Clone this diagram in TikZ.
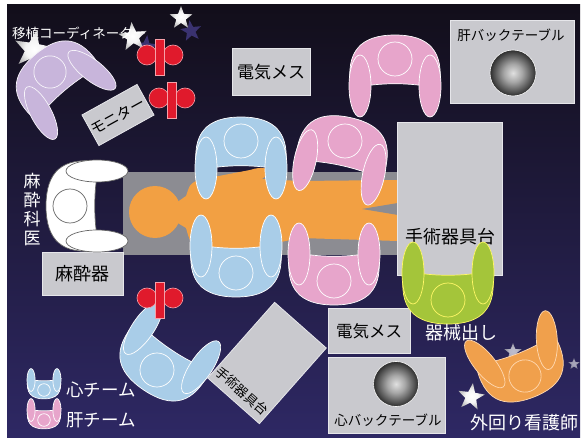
\documentclass[tikz,border=0pt]{standalone}
\usepackage{fontspec}
\setmainfont{Noto Sans CJK JP}
\usetikzlibrary{shapes.geometric,calc}

\definecolor{bgtop}{HTML}{120E1A}
\definecolor{bgmid}{HTML}{201A3C}
\definecolor{bgbot}{HTML}{2E2864}
\definecolor{tablegray}{HTML}{8C8C92}
\definecolor{boxgray}{HTML}{C9C9CE}
\definecolor{boxedge}{HTML}{E6E6EA}
\definecolor{bodyorange}{HTML}{F2A043}
\definecolor{teamblue}{HTML}{A9CDE8}
\definecolor{teampink}{HTML}{E7A5CB}
\definecolor{coordlav}{HTML}{C8B5DB}
\definecolor{nursegreen}{HTML}{A4C53A}
\definecolor{nurseorange}{HTML}{F0A04C}
\definecolor{clampred}{HTML}{E01A2C}
\definecolor{clampedge}{HTML}{F7A0A8}
\definecolor{starshadow}{HTML}{3A3270}

% shading of the metal bowls on the back tables
\pgfdeclareradialshading{bowl}{\pgfpoint{0bp}{0bp}}{%
  color(0bp)=(black!12); color(10bp)=(black!35); color(25bp)=(black!82); color(50bp)=(black!82)}
% shading of the sparkle stars
\pgfdeclareradialshading{starglow}{\pgfpoint{0bp}{0bp}}{%
  color(0bp)=(white); color(12bp)=(white!92!gray); color(30bp)=(gray!75); color(50bp)=(gray!75)}

\tikzset{
  pfill/.store in=\pfill, pline/.store in=\pline, splay/.store in=\psplay,
  pfill=white, pline=white, splay=0,
  % a seated person seen from above, facing down (arms toward +y)
  person/.pic={
    \path[fill=\pfill, draw=\pline, line width=0.7pt]
      (-44,30) .. controls (-50,-8) and (-34,-24) .. (0,-24)
      .. controls (34,-24) and (50,-8) .. (44,30)
      .. controls (20,23) and (-20,23) .. cycle;
    \path[fill=\pfill, draw=\pline, line width=0.7pt] (0,0) circle (17pt);
    \path[fill=\pfill, draw=\pline, line width=0.7pt, shift={(-35,27)}, rotate=-\psplay]
      (0,0) ellipse (11pt and 31pt);
    \path[fill=\pfill, draw=\pline, line width=0.7pt, shift={(35,27)}, rotate=\psplay]
      (0,0) ellipse (11pt and 31pt);
  },
  % red stand: two discs with a bar in front
  clamp/.pic={
    \path[fill=clampred, draw=clampedge, line width=0.6pt]
      (-13,-2) circle (10pt) (13,-2) circle (10pt);
    \path[fill=clampred, draw=clampedge, line width=0.6pt] (-4.5,-18) rectangle (4.5,18);
  },
  graybox/.style={draw=boxedge, line width=0.8pt, fill=boxgray, inner sep=0pt},
  boxlabel/.style={text=black, inner sep=0pt},
  wlabel/.style={text=white, inner sep=0pt},
  sparkle/.style={star, star points=5, star point ratio=2.4, inner sep=0pt, shade, shading=starglow},
  sparkleshadow/.style={star, star points=5, star point ratio=2.4, inner sep=0pt, fill=starshadow},
  bowlnode/.style={circle, inner sep=0pt, draw=white, line width=0.6pt, shade, shading=bowl},
}

\begin{document}
\begin{tikzpicture}[x=1pt,y=-1pt]
\useasboundingbox (0,0) rectangle (582,441);
\fill[white] (0,0) rectangle (582,441);
% room floor
\shade[top color=bgtop, middle color=bgmid, bottom color=bgbot] (7,5) rectangle (580,437);

% operating table and patient
\fill[tablegray] (123,172) rectangle (398,255);
\fill[bodyorange] (155,212) circle (26pt);
\fill[bodyorange] (176,203) -- (186,196) .. controls (190,184) .. (198,180)
  -- (250,170) .. controls (262,166) and (270,168) .. (268,174) -- (262,179)
  -- (300,181) -- (398,180) -- (398,241) -- (300,238) -- (262,246)
  -- (268,250) .. controls (266,256) and (252,257) .. (245,255)
  -- (198,246) .. controls (190,242) .. (186,228) -- (176,222) -- cycle;
\fill[tablegray] (398,203) -- (362,209) -- (398,215) -- cycle;

% sparkles
\node[sparkleshadow, minimum size=22pt, rotate=8] (sh1) at (191,31) {};
\node[sparkleshadow, minimum size=24pt, rotate=-6] (sh2) at (146,47) {};
\node[sparkle, minimum size=40pt, rotate=-10] (st1) at (33,50) {};
\node[sparkle, minimum size=30pt, rotate=6] (st2) at (133,37) {};
\node[sparkle, minimum size=24pt] (st3) at (181,18) {};
\node[sparkle, minimum size=28pt, rotate=-8] (st4) at (471,397) {};
\node[sparkle, minimum size=18pt, opacity=0.7] (st5) at (513,352) {};
\node[sparkle, minimum size=12pt, opacity=0.6] (st6) at (574,364) {};

% equipment
\node[graybox, minimum width=78pt, minimum height=47pt] (esutop) at (271,71.5) {};
\node[boxlabel, font=\fontsize{17}{17}\selectfont] (esutoptxt) at (271,72) {電気メス};

\node[graybox, minimum width=124pt, minimum height=83pt] (liverback) at (512,61.5) {};
\node[boxlabel, font=\fontsize{13.5}{13.5}\selectfont] (liverbacktxt) at (511,35) {肝バックテーブル};
\node[bowlnode, minimum size=46pt] (liverbowl) at (513,73) {};

\node[graybox, minimum width=105pt, minimum height=153pt] (instright) at (449.5,198.5) {};
\node[boxlabel, font=\fontsize{18}{18}\selectfont] (instrighttxt) at (450,237) {手術器具台};

\node[graybox, minimum width=81pt, minimum height=43pt] (anesmach) at (82.5,273.5) {};
\node[boxlabel, font=\fontsize{18}{18}\selectfont] (anesmachtxt) at (82.5,274) {麻酔器};

\node[graybox, minimum width=63pt, minimum height=35pt, rotate=29] (monitor) at (118,115) {};
\node[boxlabel, font=\fontsize{15}{15}\selectfont, rotate=29] (monitortxt) at (118,116) {モニター};

\node[graybox, minimum width=69pt, minimum height=101pt, rotate=-41.5] (instdiag) at (267,363) {};
\node[boxlabel, font=\fontsize{13}{13}\selectfont, rotate=-41.5] (instdiagtxt)
  at ($(instdiag.south)!0.13!(instdiag.north)$) {手術器具台};

\node[graybox, minimum width=82pt, minimum height=45pt] (esubot) at (369,330.5) {};
\node[boxlabel, font=\fontsize{16.5}{16.5}\selectfont] (esubottxt) at (369,331) {電気メス};

\node[graybox, minimum width=117pt, minimum height=76pt] (heartback) at (386.5,395) {};
\node[bowlnode, minimum size=45pt] (heartbowl) at (396,384) {};
\node[boxlabel, font=\fontsize{13.5}{13.5}\selectfont] (heartbacktxt) at (388,420) {心バックテーブル};

% staff around the table
\pic[pfill=coordlav, pline=white!85!coordlav, rotate=40, scale=0.95, splay=12] at (50,72) {person};
\pic[pfill=white, pline=black!60, rotate=90] at (70,206) {person};
\pic[pfill=teamblue, pline=white] at (241,141) {person};
\pic[pfill=teampink, pline=white, rotate=-12] at (345,141) {person};
\pic[pfill=teampink, pline=white] at (395,59) {person};
\pic[pfill=teamblue, pline=white, rotate=180] at (236,273) {person};
\pic[pfill=teampink, pline=white, rotate=180] at (334,281) {person};
\pic[pfill=nursegreen, pline=yellow!60!white, rotate=180] at (448,300) {person};
\pic[pfill=nurseorange, pline=orange!30!white, rotate=201, scale=0.95, splay=18] at (525,376) {person};
\pic[pfill=teamblue, pline=white, rotate=146] at (157,370) {person};

% red stands
\pic at (160,57) {clamp};
\pic at (172,100) {clamp};
\pic at (160,300) {clamp};

% labels
\node[wlabel, anchor=west, font=\fontsize{13.5}{13.5}\selectfont] (coordtxt) at (12,33) {移植コーディネーター};
\node[wlabel, align=center, font=\fontsize{17}{19}\selectfont] (anestxt) at (32,210) {麻\\酔\\科\\医};
\node[wlabel, font=\fontsize{18}{18}\selectfont] (scrubtxt) at (461,333) {器械出し};
\node[wlabel, font=\fontsize{18}{18}\selectfont] (circtxt) at (524,423) {外回り看護師};

% legend
\pic[pfill=teamblue, pline=white, rotate=180, scale=0.37] at (44,390) {person};
\pic[pfill=teampink, pline=white, rotate=180, scale=0.37] at (44,420) {person};
\node[wlabel, anchor=west, font=\fontsize{17.5}{17.5}\selectfont] (heartteam) at (66,390) {心チーム};
\node[wlabel, anchor=west, font=\fontsize{17.5}{17.5}\selectfont] (liverteam) at (66,420) {肝チーム};
\end{tikzpicture}
\end{document}
